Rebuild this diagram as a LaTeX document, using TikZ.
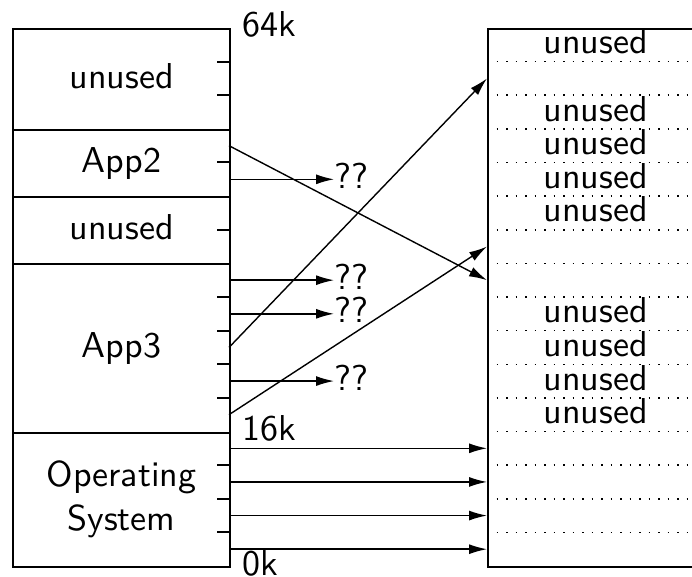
\documentclass[tikz,border=0pt]{standalone}
\usepackage{fontspec}
\usetikzlibrary{arrows.meta}
% the 10pt design of Latin Modern Sans, scaled up
\newfontfamily\memfont{lmsans10-regular.otf}
\begin{document}
\begin{tikzpicture}[x=1pt,y=-1pt,
  lbl/.style={font=\memfont\fontsize{36pt}{44pt}\selectfont},
  strutted/.style={text height=25pt,text depth=7pt},
  region/.style={draw,line width=2pt,inner sep=0pt,minimum width=217pt,anchor=north west,lbl},
  tickmark/.style={line width=2pt},
  pageline/.style={line width=1.5pt,dash pattern=on 1.5pt off 8pt},
  map/.style={line width=1.4pt,-{Latex[length=18pt,width=10pt]}},
]
\useasboundingbox (0,0) rectangle (692,577);
\clip (0,0) rectangle (692,577);

% page size (4k) in the memory columns
\def\pgh{33.625}

% virtual address space, 16 pages of 4k
\node[region,strutted,minimum height=100.875pt] (freeHi) at (12,28) {unused};
\node[region,strutted,minimum height=67.25pt] (app2) at (12,128.875) {App2};
\node[region,strutted,minimum height=67.25pt] (freeMid) at (12,196.125) {unused};
\node[region,strutted,minimum height=168.125pt] (app3) at (12,263.375) {App3};
\node[region,align=center,minimum height=134.5pt] (os) at (12,431.5) {Operating\\System};

% page boundary ticks inside regions
\foreach \p in {1,2,4,6,8,9,10,11,13,14,15}{
  \draw[tickmark] (217,{28+\pgh*\p}) -- (229,{28+\pgh*\p});
}

% physical memory
\node[draw,line width=2pt,inner sep=0pt,minimum width=217pt,minimum height=538pt,anchor=north west] (mem) at (487,28) {};
\foreach \p in {1,...,15}{
  \coordinate (B\p) at (487,{28+\pgh*\p});
  \draw[pageline] (B\p) -- ++(217,0);
}
\foreach \p in {0,2,3,4,5,8,9,10,11}{
  \node[lbl,strutted] (free\p) at (595.5,{28+\pgh*(\p+0.5)}) {unused};
}

% page centres on both columns
\foreach \p in {0,...,15}{
  \coordinate (L\p) at (229,{28+\pgh*(\p+0.5)});
  \coordinate (R\p) at (487,{28+\pgh*(\p+0.5)});
}

% address labels
\node[lbl,strutted,anchor=west,inner sep=0pt] (k64) at (242,28) {64k};
\node[lbl,strutted,anchor=west,inner sep=0pt] (k16) at (242,431.5) {16k};
\node[lbl,strutted,anchor=west,inner sep=0pt] (k0) at (242,566) {0k};

% unmapped pages
\foreach \p in {4,7,8,10}{
  \node[lbl,strutted,anchor=west,inner sep=0pt] (q\p) at (334,{28+\pgh*(\p+0.5)}) {??};
  \draw[map] (L\p) -- (q\p.west);
}

% mapped pages
\draw[map] (L3) -- (R7);
\draw[map] (L9) -- (R1);
\draw[map] (L11) -- (R6);
\foreach \p in {12,...,15}{
  \draw[map] (L\p) -- (R\p);
}
\end{tikzpicture}
\end{document}
